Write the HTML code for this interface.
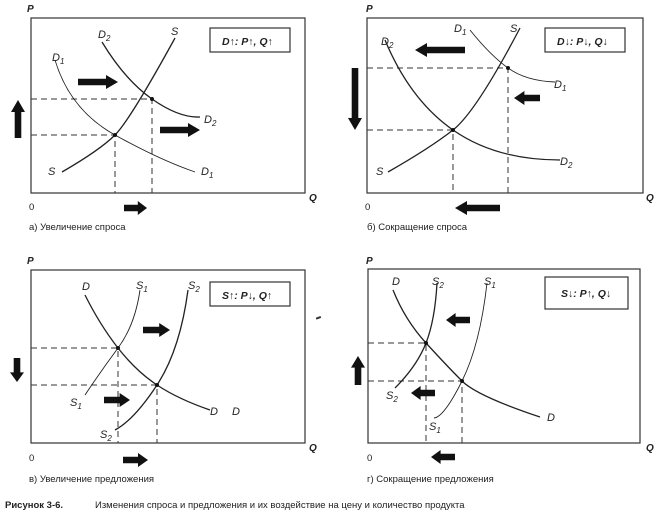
<!DOCTYPE html>
<html><head><meta charset="utf-8"><style>
body{margin:0;background:#fff}
svg{display:block}
text{font-family:"Liberation Sans",sans-serif;fill:#222}
.ax{font-weight:bold;font-style:italic;font-size:10px}
.lb{font-style:italic;font-size:11px}
.cap{font-size:9.5px}
.bx{font-weight:bold;font-style:italic;font-size:10.5px}
</style></head><body>
<svg id="s" width="670" height="517" viewBox="0 0 670 517" xmlns="http://www.w3.org/2000/svg">
<g fill="none" stroke="#333" stroke-width="1.2">
<rect x="31" y="18" width="274" height="175"/>
<rect x="367" y="18" width="276" height="175"/>
<rect x="31" y="270" width="274" height="173"/>
<rect x="368" y="269" width="272" height="174"/>
<rect x="210" y="28" width="80" height="24"/>
<rect x="545" y="28" width="80" height="24"/>
<rect x="210" y="282" width="80" height="24"/>
<rect x="545" y="277" width="83" height="32"/>
</g>
<g fill="none" stroke="#333" stroke-width="1" stroke-dasharray="6,4">
<path d="M31 135H115V193M31 99H152V193"/>
<path d="M367 130H453V193M367 68H508V193"/>
<path d="M31 348H118V443M31 385H157V443"/>
<path d="M368 343H426V443M368 381H462V443"/>
</g>
<g fill="none" stroke="#222" stroke-width="1.3">
<path d="M62 172Q100 150 115 135T175 38"/>
<path d="M55 60Q70 110 115 135T195 172" stroke-width="0.9"/>
<path d="M102 42Q125 80 152 99T200 117"/>
<path d="M388 172Q430 148 453 130T520 28"/>
<path d="M470 30Q490 55 508 68T555 82" stroke-width="0.9"/>
<path d="M385 40Q410 100 453 130T560 160"/>
<path d="M85 295Q100 325 118 348T157 385T210 410"/>
<path d="M140 290Q135 325 118 348T85 395" stroke-width="0.9"/>
<path d="M188 290Q180 350 157 385T115 430"/>
<path d="M393 290Q405 320 426 343T462 381T540 417"/>
<path d="M437 283Q435 320 426 343T395 388"/>
<path d="M487 283Q480 345 462 381T434 418" stroke-width="0.9"/>
</g>
<g fill="#111">
<circle cx="115" cy="135" r="2"/><circle cx="152" cy="99" r="2"/>
<circle cx="453" cy="130" r="2"/><circle cx="508" cy="68" r="2"/>
<circle cx="118" cy="348" r="2"/><circle cx="157" cy="385" r="2"/>
<circle cx="426" cy="343" r="2"/><circle cx="462" cy="381" r="2"/>
</g>
<g id="arr" fill="#111"></g>
<text class="ax" x="27" y="12">P</text><text class="ax" x="309" y="201">Q</text><text class="cap" x="29" y="210">0</text>
<text class="ax" x="366" y="12">P</text><text class="ax" x="646" y="201">Q</text><text class="cap" x="365" y="210">0</text>
<text class="ax" x="27" y="264">P</text><text class="ax" x="309" y="451">Q</text><text class="cap" x="29" y="461">0</text>
<text class="ax" x="366" y="264">P</text><text class="ax" x="646" y="451">Q</text><text class="cap" x="367" y="461">0</text>
<text class="cap" x="29" y="230">а) Увеличение спроса</text>
<text class="cap" x="367" y="230">б) Сокращение спроса</text>
<text class="cap" x="29" y="482">в) Увеличение предложения</text>
<text class="cap" x="367" y="482">г) Сокращение предложения</text>
<text class="bx" x="222" y="45">D↑: P↑, Q↑</text>
<text class="bx" x="557" y="45">D↓: P↓, Q↓</text>
<text class="bx" x="222" y="299">S↑: P↓, Q↑</text>
<text class="bx" x="561" y="297">S↓: P↑, Q↓</text>
<g class="lb">
<text class="lb" x="98" y="38">D<tspan font-size="8" dy="3">2</tspan></text>
<text class="lb" x="171" y="35">S</text>
<text class="lb" x="52" y="61">D<tspan font-size="8" dy="3">1</tspan></text>
<text class="lb" x="204" y="123">D<tspan font-size="8" dy="3">2</tspan></text>
<text class="lb" x="48" y="175">S</text>
<text class="lb" x="201" y="175">D<tspan font-size="8" dy="3">1</tspan></text>
<text class="lb" x="454" y="32">D<tspan font-size="8" dy="3">1</tspan></text>
<text class="lb" x="510" y="32">S</text>
<text class="lb" x="381" y="45">D<tspan font-size="8" dy="3">2</tspan></text>
<text class="lb" x="554" y="88">D<tspan font-size="8" dy="3">1</tspan></text>
<text class="lb" x="376" y="175">S</text>
<text class="lb" x="560" y="165">D<tspan font-size="8" dy="3">2</tspan></text>
<text class="lb" x="82" y="290">D</text>
<text class="lb" x="136" y="289">S<tspan font-size="8" dy="3">1</tspan></text>
<text class="lb" x="188" y="289">S<tspan font-size="8" dy="3">2</tspan></text>
<text class="lb" x="210" y="415">D</text><text class="lb" x="232" y="415">D</text>
<text class="lb" x="70" y="406">S<tspan font-size="8" dy="3">1</tspan></text>
<text class="lb" x="100" y="438">S<tspan font-size="8" dy="3">2</tspan></text>
<text class="lb" x="392" y="285">D</text>
<text class="lb" x="432" y="285">S<tspan font-size="8" dy="3">2</tspan></text>
<text class="lb" x="484" y="285">S<tspan font-size="8" dy="3">1</tspan></text>
<text class="lb" x="386" y="399">S<tspan font-size="8" dy="3">2</tspan></text>
<text class="lb" x="429" y="430">S<tspan font-size="8" dy="3">1</tspan></text>
<text class="lb" x="547" y="421">D</text>
</g>
<rect x="316" y="317" width="5" height="2" fill="#333" transform="rotate(-20 318 318)"/>
<text x="5" y="508" style="font-size:9.5px;font-weight:bold">Рисунок 3-6.</text>
<text class="cap" x="95" y="508">Изменения спроса и предложения и их воздействие на цену и количество продукта</text>
</svg>
<script>
var g=document.getElementById('arr');
function A(x1,y1,x2,y2){var dx=x2-x1,dy=y2-y1,L=Math.hypot(dx,dy),ux=dx/L,uy=dy/L,px=-uy,py=ux,h=Math.min(12,L*0.4),w=3.3,W=7;
var bx=x2-ux*h,by=y2-uy*h;
var pts=[[x1+px*w,y1+py*w],[bx+px*w,by+py*w],[bx+px*W,by+py*W],[x2,y2],[bx-px*W,by-py*W],[bx-px*w,by-py*w],[x1-px*w,y1-py*w]];
var p=document.createElementNS('http://www.w3.org/2000/svg','polygon');p.setAttribute('points',pts.map(function(a){return a.join(',')}).join(' '));g.appendChild(p);}
A(78,82,118,82);A(160,130,200,130);A(18,138,18,100);A(124,208,147,208);
A(465,50,415,50);A(540,98,514,98);A(355,68,355,130);A(500,208,455,208);
A(143,330,170,330);A(104,400,130,400);A(17,358,17,382);A(123,460,148,460);
A(470,320,446,320);A(435,393,411,393);A(358,385,358,356);A(455,457,431,457);
</script>
</body></html>
